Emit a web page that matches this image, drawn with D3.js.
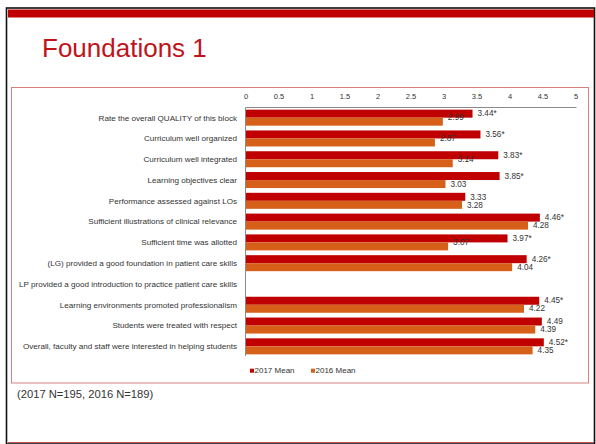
<!DOCTYPE html>
<html>
<head>
<meta charset="utf-8">
<script src="https://cdn.jsdelivr.net/npm/d3@7/dist/d3.min.js"></script>
<style>
  html, body { margin: 0; padding: 0; background: #fff; }
  svg { display: block; font-family: "Liberation Sans", Arial, sans-serif; }
</style>
</head>
<body>
<svg id="slide" width="596" height="444"></svg>
<script>
// Survey items, top to bottom
const categories = [
  "Rate the overall QUALITY of this block",
  "Curriculum well organized",
  "Curriculum well integrated",
  "Learning objectives clear",
  "Performance assessed against LOs",
  "Sufficient illustrations of clinical relevance",
  "Sufficient time was allotted",
  "(LG) provided a good foundation in patient care skills",
  "LP provided a good introduction to practice patient care skills",
  "Learning environments promoted professionalism",
  "Students were treated with respect",
  "Overall, faculty and staff were interested in helping students"
];
// Mean ratings per year (null = item not asked)
const mean2017 = [3.44, 3.56, 3.83, 3.85, 3.33, 4.46, 3.97, 4.26, null, 4.45, 4.49, 4.52];
const mean2016 = [2.99, 2.87, 3.14, 3.03, 3.28, 4.28, 3.07, 4.04, null, 4.22, 4.39, 4.35];
// Statistically significant change from 2016 to 2017
const significant = [true, true, true, true, false, true, true, true, false, true, false, true];
const seriesNames = ["2017 Mean", "2016 Mean"];
const xTicks = [0, 0.5, 1, 1.5, 2, 2.5, 3, 3.5, 4, 4.5, 5];

const RED = "#c00000", ORANGE = "#d6601a", TEXT = "#333";
const svg = d3.select("#slide");

// slide frame
svg.append("rect").attr("x", 6.5).attr("y", 8).attr("width", 588).attr("height", 436)
  .attr("fill", "none").attr("stroke", "#111").attr("stroke-width", 1.6);
svg.append("rect").attr("x", 8).attr("y", 9.5).attr("width", 586).attr("height", 8).attr("fill", RED);
svg.append("line").attr("x1", 8).attr("x2", 594).attr("y1", 442.5).attr("y2", 442.5)
  .attr("stroke", "#c85050").attr("stroke-width", 1);

svg.append("text").attr("x", 42).attr("y", 57)
  .attr("fill", "#c0141a").attr("font-size", 26).text("Foundations 1");

// chart area border
svg.append("rect").attr("x", 11.5).attr("y", 87.5).attr("width", 577).attr("height", 295.5)
  .attr("fill", "none").attr("stroke", "#d98080").attr("stroke-width", 1);

const x = d3.scaleLinear().domain([0, 5]).range([245.5, 575.5]);
const y = d3.scaleBand().domain(categories).range([108, 356]).paddingInner(0.23).paddingOuter(0.08);
const ySub = d3.scaleBand().domain(seriesNames).range([0, y.bandwidth()]);

// value axis across the top
const xAxis = d3.axisTop(x).tickValues(xTicks).tickSize(0).tickPadding(0)
  .tickFormat(d => String(d));
const gx = svg.append("g").attr("transform", "translate(0,99)").call(xAxis);
gx.select(".domain").remove();
gx.selectAll("text").attr("font-size", 7.5).attr("fill", TEXT).attr("font-family", "Liberation Sans, Arial, sans-serif");

svg.append("line").attr("x1", x(0)).attr("x2", x(5) + 1).attr("y1", 107.5).attr("y2", 107.5)
  .attr("stroke", "#8a8a8a");

// category labels
svg.append("g").selectAll("text").data(categories).join("text")
  .attr("x", 237).attr("y", d => y(d) + y.bandwidth() / 2)
  .attr("dy", "0.35em").attr("text-anchor", "end")
  .attr("font-size", 8.1).attr("fill", TEXT).text(d => d);

const rows = categories.map((c, i) => ({ c, i, v17: mean2017[i], v16: mean2016[i] }));

// 2016 labels that sit up against the 2017 bar in the rendered layout
const raised2016 = new Set([0, 1, 2, 6]);

const series = [
  { name: seriesNames[0], color: RED, key: "v17" },
  { name: seriesNames[1], color: ORANGE, key: "v16" }
];

series.forEach(s => {
  const data = rows.filter(r => r[s.key] != null);
  svg.append("g").selectAll("rect").data(data).join("rect")
    .attr("x", x(0)).attr("y", r => y(r.c) + ySub(s.name))
    .attr("width", r => x(r[s.key]) - x(0)).attr("height", ySub.bandwidth())
    .attr("fill", s.color);
  svg.append("g").selectAll("text").data(data).join("text")
    .attr("x", r => x(r[s.key]) + 5)
    .attr("y", r => y(r.c) + ySub(s.name) + ySub.bandwidth() / 2
      - (s.key === "v16" && raised2016.has(r.i) ? 4 : 0))
    .attr("dy", "0.33em").attr("font-size", 8.2).attr("fill", TEXT)
    .text(r => r[s.key].toFixed(2) + (s.key === "v17" && significant[r.i] ? "*" : ""));
});

// category axis line
svg.append("line").attr("x1", x(0)).attr("x2", x(0)).attr("y1", 107.5).attr("y2", 356)
  .attr("stroke", "#8a8a8a");

// legend
const legend = svg.append("g").attr("transform", "translate(250,370.5)");
const lx = [0, 61];
series.forEach((s, k) => {
  legend.append("rect").attr("x", lx[k]).attr("y", -1.8).attr("width", 4).attr("height", 4).attr("fill", s.color);
  legend.append("text").attr("x", lx[k] + 4.5).attr("y", 0).attr("dy", "0.35em")
    .attr("font-size", 8).attr("fill", TEXT).text(s.name);
});

svg.append("text").attr("x", 17).attr("y", 394.5).attr("dy", "0.35em")
  .attr("font-size", 11.2).attr("fill", TEXT).text("(2017 N=195, 2016 N=189)");
</script>
</body>
</html>
